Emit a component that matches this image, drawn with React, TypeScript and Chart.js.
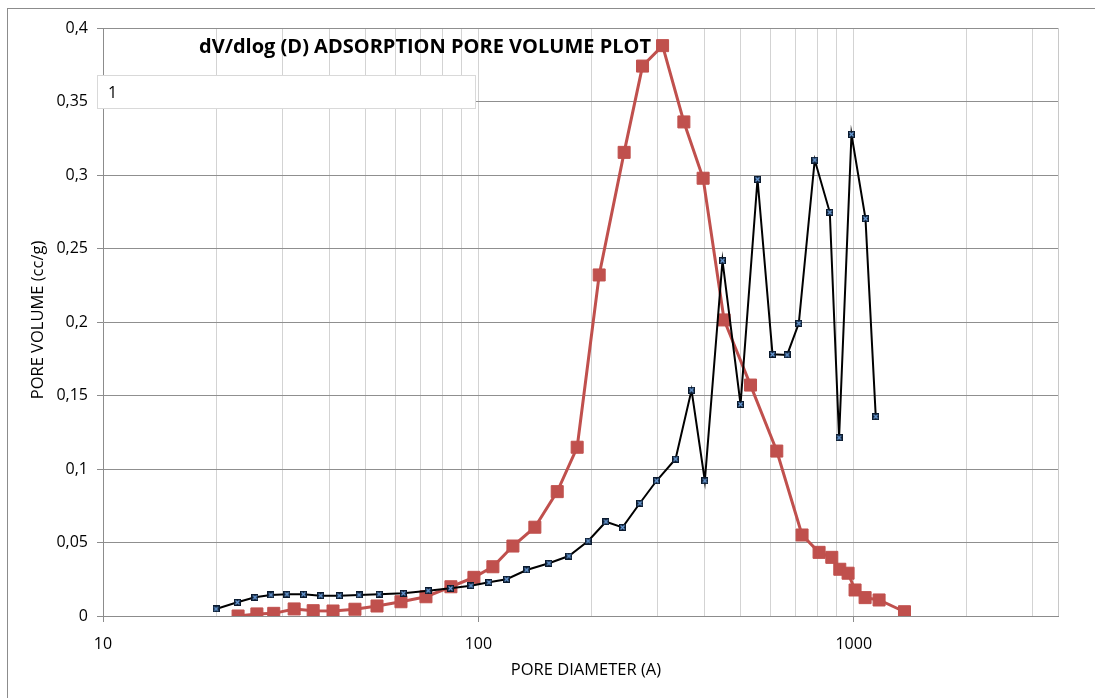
import React, { useEffect, useRef } from 'react';
import { Chart, registerables } from 'chart.js';

Chart.register(...registerables);

// ---- data ----
const blackX = [20.0, 22.8, 25.4, 28.0, 30.9, 34.2, 38.0, 42.6, 48.1, 54.4, 63.1, 73.5, 84.3, 95.5, 106.7, 118.9, 134.4, 154.1, 174.2, 196.1, 218.6, 242.1, 269.2, 298.3, 335.2, 369.7, 401.1, 447.0, 499.3, 554.1, 607.5, 664.5, 713.8, 787.1, 863.3, 913.9, 986.1, 1074.5, 1144.5];
const blackY = [0.0048, 0.0093, 0.0127, 0.0143, 0.0148, 0.0148, 0.0138, 0.0138, 0.0143, 0.0148, 0.0154, 0.0172, 0.0188, 0.0206, 0.0229, 0.0250, 0.0313, 0.0359, 0.0408, 0.0510, 0.0641, 0.0603, 0.0767, 0.0920, 0.1068, 0.1537, 0.0920, 0.2417, 0.1440, 0.2971, 0.1780, 0.1776, 0.1991, 0.3102, 0.2746, 0.1213, 0.3277, 0.2703, 0.1356];

const redX = [22.9, 25.7, 28.5, 32.3, 36.3, 41.0, 46.9, 53.7, 62.2, 72.5, 84.5, 97.3, 109.3, 123.6, 141.4, 162.2, 183.3, 209.8, 244.5, 273.7, 309.5, 352.7, 396.9, 451.4, 530.8, 623.6, 728.2, 808.3, 873.9, 917.8, 965.7, 1008, 1072, 1168, 1365];
const redY = [0.0, 0.0014, 0.0018, 0.0048, 0.0036, 0.0034, 0.0046, 0.0068, 0.0097, 0.0131, 0.0199, 0.0263, 0.0335, 0.0476, 0.0604, 0.0846, 0.1148, 0.2320, 0.3154, 0.3741, 0.3880, 0.3361, 0.2978, 0.2014, 0.1571, 0.1122, 0.0551, 0.0433, 0.0399, 0.0318, 0.0291, 0.0177, 0.0125, 0.0109, 0.0029];

const xGridValues = [10, 20, 30, 40, 50, 60, 70, 80, 90, 100, 200, 300, 400, 500, 600, 700, 800, 900, 1000, 2000, 3000];
const xLabelValues = [10, 100, 1000];
const xMin = 10;
const xMax = 3500;
const yMin = 0;
const yMax = 0.4;
const yStep = 0.05;

const TITLE = 'dV/dlog (D) ADSORPTION PORE VOLUME PLOT';
const X_TITLE = 'PORE DIAMETER (A)';
const Y_TITLE = 'PORE VOLUME (cc/g)';
const BOX_TEXT = '1';

const FONT = '"Open Sans", "Liberation Sans", sans-serif';

function makeMarker(): HTMLCanvasElement {
  const c = document.createElement('canvas');
  c.width = 7;
  c.height = 7;
  const g = c.getContext('2d')!;
  g.fillStyle = '#0b1a2e';
  g.fillRect(0, 0, 7, 7);
  g.strokeStyle = '#6fa3e0';
  g.lineWidth = 1.2;
  g.beginPath();
  g.moveTo(1.5, 1.5);
  g.lineTo(5.5, 5.5);
  g.moveTo(5.5, 1.5);
  g.lineTo(1.5, 5.5);
  g.stroke();
  return c;
}

const overlayPlugin = {
  id: 'overlay',
  beforeDatasetsDraw(chart: any) {
    const { ctx, chartArea } = chart;
    ctx.save();
    // plot-area right border
    ctx.strokeStyle = '#c8c8c8';
    ctx.lineWidth = 1;
    ctx.beginPath();
    ctx.moveTo(Math.round(chartArea.right) + 0.5, chartArea.top);
    ctx.lineTo(Math.round(chartArea.right) + 0.5, chartArea.bottom);
    ctx.stroke();
    // text box
    ctx.fillStyle = '#ffffff';
    ctx.fillRect(97, 75, 378, 33);
    ctx.strokeStyle = '#d9d9d9';
    ctx.strokeRect(97.5, 75.5, 378, 33);
    ctx.fillStyle = '#000';
    ctx.font = `16px ${FONT}`;
    ctx.textAlign = 'left';
    ctx.textBaseline = 'alphabetic';
    ctx.fillText(BOX_TEXT, 108, 98);
    // title
    ctx.font = `bold 20px ${FONT}`;
    ctx.textAlign = 'center';
    ctx.fillText(TITLE, 425, 53);
    ctx.restore();
  },
  afterDraw(chart: any) {
    const { ctx } = chart;
    ctx.save();
    ctx.fillStyle = '#000';
    ctx.font = `16.5px ${FONT}`;
    ctx.textAlign = 'center';
    ctx.textBaseline = 'middle';
    ctx.fillText(X_TITLE, 586, 670);
    ctx.translate(38.5, 320);
    ctx.rotate(-Math.PI / 2);
    ctx.fillText(Y_TITLE, 0, 0);
    ctx.restore();
  },
};

export default function App() {
  const ref = useRef<HTMLCanvasElement>(null);

  useEffect(() => {
    if (!ref.current) return;
    const marker = makeMarker();
    const chart = new Chart(ref.current, {
      type: 'line',
      data: {
        datasets: [
          {
            label: 'black',
            data: blackX.map((x, i) => ({ x, y: blackY[i] })),
            borderColor: '#000000',
            backgroundColor: '#000000',
            borderWidth: 2,
            pointStyle: marker as any,
            pointRadius: 3.5,
            tension: 0,
          },
          {
            label: 'red',
            data: redX.map((x, i) => ({ x, y: redY[i] })),
            borderColor: '#C0504D',
            backgroundColor: '#C0504D',
            borderWidth: 3,
            pointStyle: 'rect',
            pointRadius: 8.5,
            pointBorderWidth: 1,
            pointBackgroundColor: '#C0504D',
            pointBorderColor: '#C0504D',
            tension: 0,
          },
        ],
      },
      options: {
        animation: false,
        responsive: false,
        maintainAspectRatio: false,
        layout: { padding: { left: 0, top: 28, right: 37, bottom: 0 } },
        plugins: { legend: { display: false }, tooltip: { enabled: false }, title: { display: false } },
        scales: {
          x: {
            type: 'logarithmic',
            min: xMin,
            max: xMax,
            afterBuildTicks: (s: any) => {
              s.ticks = xGridValues.map((v) => ({ value: v, major: xLabelValues.includes(v) }));
            },
            afterFit: (s: any) => {
              s.height = 82;
            },
            ticks: {
              autoSkip: false,
              maxRotation: 0,
              minRotation: 0,
              padding: 13,
              color: '#000',
              font: { family: FONT, size: 16 },
              callback: (v: any) => (xLabelValues.includes(Number(v)) ? String(v) : ''),
            },
            grid: {
              color: '#d3d3d3',
              lineWidth: 1,
              tickLength: 6,
              tickColor: (c: any) => (c.tick && xLabelValues.includes(c.tick.value) ? '#8c8c8c' : 'rgba(0,0,0,0)'),
            },
            border: { color: '#8c8c8c', width: 1 },
          },
          y: {
            type: 'linear',
            min: yMin,
            max: yMax,
            afterFit: (s: any) => {
              s.width = 103;
            },
            ticks: {
              stepSize: yStep,
              padding: 9,
              color: '#000',
              font: { family: FONT, size: 16 },
              callback: (v: any) => String(Number(Number(v).toFixed(2))).replace('.', ','),
            },
            grid: { color: '#8f8f8f', lineWidth: 1, tickLength: 6, tickColor: '#8c8c8c' },
            border: { color: '#8c8c8c', width: 1 },
          },
        },
      },
      plugins: [overlayPlugin],
    } as any);
    return () => chart.destroy();
  }, []);

  return (
    <div style={{ position: 'fixed', left: 0, top: 0, width: 1095, height: 698, overflow: 'hidden', background: '#fff' }}>
      <div
        style={{
          position: 'absolute',
          left: 7,
          top: 8,
          width: 1200,
          height: 800,
          borderLeft: '1px solid #8c8c8c',
          borderTop: '1px solid #8c8c8c',
        }}
      />
      <canvas ref={ref} width={1095} height={698} style={{ position: 'absolute', left: 0, top: 0 }} />
    </div>
  );
}
